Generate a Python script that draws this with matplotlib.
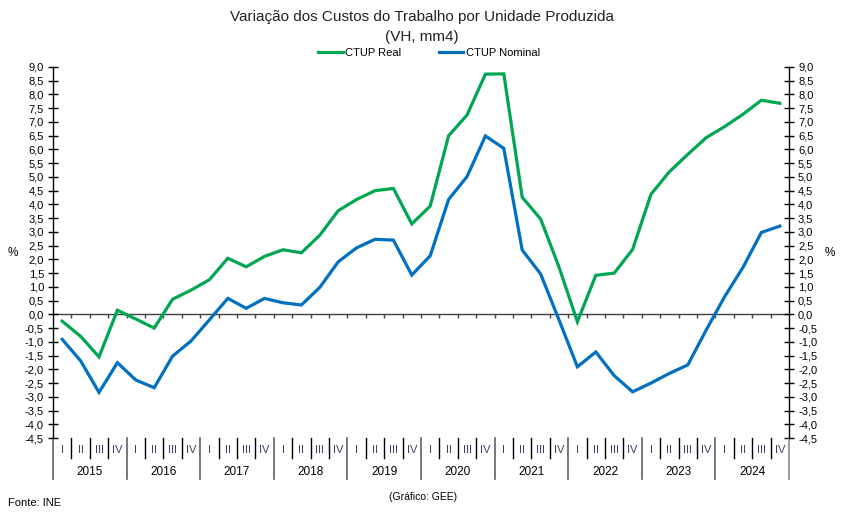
import matplotlib.pyplot as plt
import numpy as np

plt.rcParams["font.family"] = ["Liberation Sans", "DejaVu Sans"]

years = ["2015", "2016", "2017", "2018", "2019", "2020", "2021", "2022", "2023", "2024"]
quarters = ["I", "II", "III", "IV"]

ctup_real = [
    -0.25, -0.80, -1.55, 0.15, -0.17, -0.50, 0.55, 0.88, 1.26, 2.04,
    1.73, 2.11, 2.35, 2.24, 2.88, 3.77, 4.18, 4.50, 4.58, 3.29,
    3.94, 6.50, 7.25, 8.74, 8.75, 4.26, 3.47, 1.72, -0.27, 1.42,
    1.50, 2.36, 4.37, 5.19, 5.82, 6.43, 6.83, 7.28, 7.79, 7.68,
]
ctup_nominal = [
    -0.91, -1.69, -2.84, -1.76, -2.39, -2.67, -1.52, -0.97, -0.20, 0.58,
    0.22, 0.58, 0.42, 0.34, 0.98, 1.91, 2.42, 2.73, 2.70, 1.43,
    2.13, 4.18, 5.01, 6.49, 6.04, 2.34, 1.47, -0.20, -1.91, -1.37,
    -2.23, -2.82, -2.50, -2.15, -1.84, -0.57, 0.64, 1.71, 2.98, 3.21,
]

green = "#00A651"
blue = "#0070C0"
axis_col = "#404040"

fig = plt.figure(figsize=(8.43, 5.18), dpi=100)
ax = fig.add_axes([53 / 843, 80 / 518, 736 / 843, 371 / 518])

n = len(ctup_real)
x = np.arange(n) + 0.5
ax.plot(x, ctup_real, color=green, lw=2.3, label="CTUP Real", solid_joinstyle="miter")
ax.plot(x, ctup_nominal, color=blue, lw=2.3, label="CTUP Nominal", solid_joinstyle="miter")

ax.set_xlim(0, n)
ax.set_ylim(-4.5, 9.0)

# zero line with category ticks
ax.axhline(0, color=axis_col, lw=1.0, zorder=1)
ax.vlines(np.arange(1, n), -0.14, 0, color=axis_col, lw=1.0, zorder=1)

yt = np.arange(-4.5, 9.01, 0.5)
ax.set_yticks(yt)
ax.set_yticklabels([f"{v:.1f}".replace(".", ",") for v in yt])
ax.tick_params(axis="y", direction="inout", length=7, width=1, colors="black",
               labelsize=8, left=True, right=True, labelleft=True, labelright=True, pad=3)
ax.set_xticks([])
for side in ["top", "bottom"]:
    ax.spines[side].set_visible(False)
for side in ["left", "right"]:
    ax.spines[side].set_color("black")
    ax.spines[side].set_linewidth(1.0)

# category axis below plot
tr = ax.get_xaxis_transform()
for i in range(n):
    ax.text(i + 0.5, -0.032, quarters[i % 4], transform=tr, ha="center", va="center",
            fontsize=8, color="#4a3a65")
    if i % 4 == 0:
        ax.plot([i, i], [0, -0.11], transform=tr, color="#606060", lw=1.2, clip_on=False)
    else:
        ax.plot([i, i], [0, -0.054], transform=tr, color="black", lw=1.0, clip_on=False)
ax.plot([n, n], [0, -0.11], transform=tr, color="#a0a0a0", lw=1.5, clip_on=False)
for k, yr in enumerate(years):
    ax.text(4 * k + 2, -0.092, yr, transform=tr, ha="center", va="center", fontsize=8.5)

fig.text(13 / 843, 1 - 253 / 518, "%", ha="center", va="center", fontsize=8.5)
fig.text(830 / 843, 1 - 253 / 518, "%", ha="center", va="center", fontsize=8.5)

fig.text(0.5, 1 - 17 / 518, "Variação dos Custos do Trabalho por Unidade Produzida",
         ha="center", va="center", fontsize=11, color="#222222")
fig.text(0.5, 1 - 37 / 518, "(VH, mm4)", ha="center", va="center", fontsize=11, color="#222222")

ax.legend(loc="center", bbox_to_anchor=(429 / 843, 1 - 53 / 518), bbox_transform=fig.transFigure,
          ncol=2, frameon=False, fontsize=8, handlelength=2.2, handletextpad=0.2,
          columnspacing=3.4, borderpad=0)

fig.text(8 / 843, 1 - 503 / 518, "Fonte: INE", ha="left", va="center", fontsize=8)
fig.text(423 / 843, 1 - 497 / 518, "(Gráfico: GEE)", ha="center", va="center", fontsize=7.5)

fig.savefig("out.png", dpi=100)
